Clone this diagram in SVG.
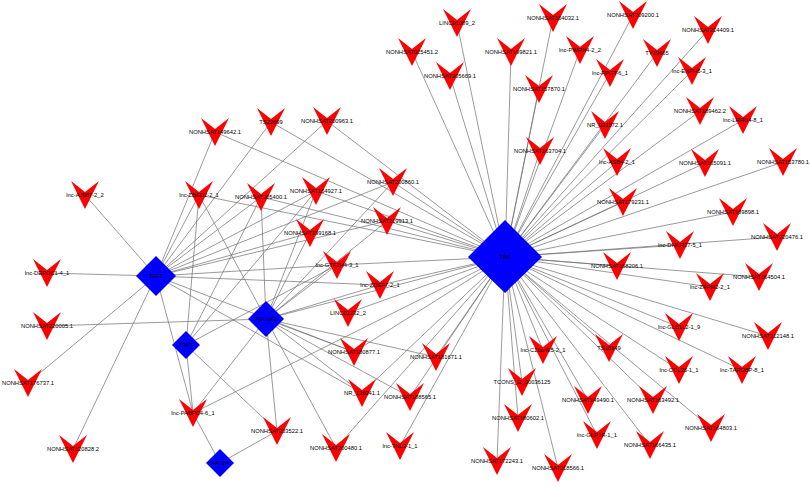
<svg xmlns="http://www.w3.org/2000/svg" xmlns:xlink="http://www.w3.org/1999/xlink" width="810" height="487" viewBox="0 0 810 487">
<style>
.e{stroke:#6e6e6e;stroke-width:0.7;fill:none}
.v{fill:#ff0000}
.h{fill:#0000ff}
text{font-family:"Liberation Sans",Arial,sans-serif;font-size:5.8px;fill:#000;text-anchor:middle}
</style>
<defs>
<path id="v" class="v" d="M-14,-14 L0,-3 L14,-14 L0,14 Z"/>
</defs>
<rect width="810" height="487" fill="#fff"/>
<g id="connectors">
<!-- TAF1 -->
<path class="e" d="M156,276L85,195M156,276L47,273M156,276L28,383M156,276L73,449M156,276L193,413M156,276L215,132M156,276L271,122M156,276L327,121M156,276L199,195M156,276L261,197M156,276L316,191M156,276L393,182M156,276L387,221M156,276L310,233M156,276L337,265M156,276L380,285M156,276L354,352M156,276L362,393"/>
<!-- POU2F2 -->
<path class="e" d="M266,319L47,326M266,319L193,413M266,319L199,195M266,319L261,197M266,319L316,191M266,319L310,233M266,319L337,265M266,319L380,285M266,319L354,352M266,319L362,393M266,319L277,431M266,319L336,448M266,319L410,397M266,319L436,357M266,319L393,182M266,319L387,221M266,319L505,257"/>
<!-- TAF7 -->
<path class="e" d="M186,345L193,413M186,345L199,195M186,345L261,197M186,345L337,265M186,345L277,431M186,345L316,191"/>
<!-- KAT2A -->
<path class="e" d="M220,463L193,413M220,463L277,431"/>
<!-- TBP left -->
<path class="e" d="M505,257L215,132M505,257L271,122M505,257L327,121M505,257L199,195M505,257L261,197M505,257L316,191M505,257L393,182M505,257L387,221M505,257L337,265M505,257L380,285M505,257L348,313M505,257L354,352M505,257L362,393M505,257L336,448M505,257L400,446M505,257L410,397M505,257L436,357M505,257L193,413"/>
<!-- TBP right -->
<path class="e" d="M505,257L457,23M505,257L553,18M505,257L412,52M505,257L511,52M505,257L580,50M505,257L450,76M505,257L539,89M505,257L633,15M505,257L708,30M505,257L657,53M505,257L610,73M505,257L692,71M505,257L700,111M505,257L743,120M505,257L605,125M505,257L540,151M505,257L617,162M505,257L705,163M505,257L783,162M505,257L623,202M505,257L733,212M505,257L777,237M505,257L680,245M505,257L617,266M505,257L759,277M505,257L710,287M505,257L679,327M505,257L768,336M505,257L609,348M505,257L679,370M505,257L742,370M505,257L653,400M505,257L711,428M505,257L650,445M505,257L543,350M505,257L522,382M505,257L588,400M505,257L518,418M505,257L597,435M505,257L497,461M505,257L558,468"/>
</g>
<g id="n1"><use href="#v" x="85" y="195"/><text x="85" y="197">lnc-AJ987-2_2</text></g>
<g id="n2"><use href="#v" x="47" y="273"/><text x="47" y="275">lnc-DEPDC1-4_1</text></g>
<g id="n3"><use href="#v" x="47" y="326"/><text x="47" y="328">NONHSAT220005.1</text></g>
<g id="n4"><use href="#v" x="28" y="383"/><text x="28" y="385">NONHSAT176737.1</text></g>
<g id="n5"><use href="#v" x="73" y="449"/><text x="73" y="451">NONHSAT120828.2</text></g>
<g id="n6"><use href="#v" x="193" y="413"/><text x="193" y="415">lnc-PABPC4-6_1</text></g>
<g id="n7"><use href="#v" x="215" y="132"/><text x="215" y="134">NONHSAT149642.1</text></g>
<g id="n8"><use href="#v" x="271" y="122"/><text x="271" y="124">TS22699</text></g>
<g id="n9"><use href="#v" x="327" y="121"/><text x="327" y="123">NONHSAT200963.1</text></g>
<g id="n10"><use href="#v" x="199" y="195"/><text x="199" y="197">lnc-ZBED2-2_1</text></g>
<g id="n11"><use href="#v" x="261" y="197"/><text x="261" y="199">NONHSAT205400.1</text></g>
<g id="n12"><use href="#v" x="316" y="191"/><text x="316" y="193">NONHSAT154927.1</text></g>
<g id="n13"><use href="#v" x="393" y="182"/><text x="393" y="184">NONHSAT200860.1</text></g>
<g id="n14"><use href="#v" x="387" y="221"/><text x="387" y="223">NONHSAT219913.1</text></g>
<g id="n15"><use href="#v" x="310" y="233"/><text x="310" y="235">NONHSAT199168.1</text></g>
<g id="n16"><use href="#v" x="337" y="265"/><text x="337" y="267">lnc-GTF2H4-3_1</text></g>
<g id="n17"><use href="#v" x="380" y="285"/><text x="380" y="287">lnc-ZDEF7-2_1</text></g>
<g id="n18"><use href="#v" x="348" y="313"/><text x="348" y="315">LINC01232_2</text></g>
<g id="n19"><use href="#v" x="354" y="352"/><text x="354" y="354">NONHSAT180877.1</text></g>
<g id="n20"><use href="#v" x="362" y="393"/><text x="362" y="395">NR_136241.1</text></g>
<g id="n21"><use href="#v" x="277" y="431"/><text x="277" y="433">NONHSAT203522.1</text></g>
<g id="n22"><use href="#v" x="336" y="448"/><text x="336" y="450">NONHSAT200480.1</text></g>
<g id="n23"><use href="#v" x="400" y="446"/><text x="400" y="448">lnc-TNL3-1_1</text></g>
<g id="n24"><use href="#v" x="410" y="397"/><text x="410" y="399">NONHSAT188565.1</text></g>
<g id="n25"><use href="#v" x="436" y="357"/><text x="436" y="359">NONHSAT181671.1</text></g>
<g id="n26"><use href="#v" x="457" y="23"/><text x="457" y="25">LINC01089_2</text></g>
<g id="n27"><use href="#v" x="553" y="18"/><text x="553" y="20">NONHSAT164032.1</text></g>
<g id="n28"><use href="#v" x="412" y="52"/><text x="412" y="54">NONHSAT025451.2</text></g>
<g id="n29"><use href="#v" x="511" y="52"/><text x="511" y="54">NONHSAT199821.1</text></g>
<g id="n30"><use href="#v" x="580" y="50"/><text x="580" y="52">lnc-PWRN4-2_2</text></g>
<g id="n31"><use href="#v" x="450" y="76"/><text x="450" y="78">NONHSAT205669.1</text></g>
<g id="n32"><use href="#v" x="539" y="89"/><text x="539" y="91">NONHSAT157870.1</text></g>
<g id="n33"><use href="#v" x="633" y="15"/><text x="633" y="17">NONHSAT209200.1</text></g>
<g id="n34"><use href="#v" x="708" y="30"/><text x="708" y="32">NONHSAT214409.1</text></g>
<g id="n35"><use href="#v" x="657" y="53"/><text x="657" y="55">TY19665</text></g>
<g id="n36"><use href="#v" x="610" y="73"/><text x="610" y="75">lnc-FPGT-6_1</text></g>
<g id="n37"><use href="#v" x="692" y="71"/><text x="692" y="73">lnc-EXPH5-3_1</text></g>
<g id="n38"><use href="#v" x="700" y="111"/><text x="700" y="113">NONHSAT189462.2</text></g>
<g id="n39"><use href="#v" x="743" y="120"/><text x="743" y="122">lnc-LRRD4-8_1</text></g>
<g id="n40"><use href="#v" x="605" y="125"/><text x="605" y="127">NR_031572.1</text></g>
<g id="n41"><use href="#v" x="540" y="151"/><text x="540" y="153">NONHSAT163704.1</text></g>
<g id="n42"><use href="#v" x="617" y="162"/><text x="617" y="164">lnc-ASB4-2_1</text></g>
<g id="n43"><use href="#v" x="705" y="163"/><text x="705" y="165">NONHSAT165091.1</text></g>
<g id="n44"><use href="#v" x="783" y="162"/><text x="783" y="164">NONHSAT153780.1</text></g>
<g id="n45"><use href="#v" x="623" y="202"/><text x="623" y="204">NONHSAT179231.1</text></g>
<g id="n46"><use href="#v" x="733" y="212"/><text x="733" y="214">NONHSAT189898.1</text></g>
<g id="n47"><use href="#v" x="777" y="237"/><text x="777" y="239">NONHSAT220476.1</text></g>
<g id="n48"><use href="#v" x="680" y="245"/><text x="680" y="247">lnc-DHCR27-5_1</text></g>
<g id="n49"><use href="#v" x="617" y="266"/><text x="617" y="268">NONHSAT168206.1</text></g>
<g id="n50"><use href="#v" x="759" y="277"/><text x="759" y="279">NONHSAT164504.1</text></g>
<g id="n51"><use href="#v" x="710" y="287"/><text x="710" y="289">lnc-ZFPM2-2_1</text></g>
<g id="n52"><use href="#v" x="679" y="327"/><text x="679" y="329">lnc-GLB1L2-1_9</text></g>
<g id="n53"><use href="#v" x="768" y="336"/><text x="768" y="338">NONHSAT212148.1</text></g>
<g id="n54"><use href="#v" x="609" y="348"/><text x="609" y="350">TS18649</text></g>
<g id="n55"><use href="#v" x="679" y="370"/><text x="679" y="372">lnc-CCL26-1_1</text></g>
<g id="n56"><use href="#v" x="742" y="370"/><text x="742" y="372">lnc-TARDBP-8_1</text></g>
<g id="n57"><use href="#v" x="653" y="400"/><text x="653" y="402">NONHSAT163492.1</text></g>
<g id="n58"><use href="#v" x="711" y="428"/><text x="711" y="430">NONHSAT164803.1</text></g>
<g id="n59"><use href="#v" x="650" y="445"/><text x="650" y="447">NONHSAT166435.1</text></g>
<g id="n60"><use href="#v" x="543" y="350"/><text x="543" y="352">lnc-C16orf25-2_1</text></g>
<g id="n61"><use href="#v" x="522" y="382"/><text x="522" y="384">TCONS_l2_00036125</text></g>
<g id="n62"><use href="#v" x="588" y="400"/><text x="588" y="402">NONHSAT149490.1</text></g>
<g id="n63"><use href="#v" x="518" y="418"/><text x="518" y="420">NONHSAT180602.1</text></g>
<g id="n64"><use href="#v" x="597" y="435"/><text x="597" y="437">lnc-GLP1R-1_1</text></g>
<g id="n65"><use href="#v" x="497" y="461"/><text x="497" y="463">NONHSAT172243.1</text></g>
<g id="n66"><use href="#v" x="558" y="468"/><text x="558" y="470">NONHSAT218566.1</text></g>
<g id="TBP"><path class="h" d="M505,220L542,257L505,293L468,257Z"/><text x="505" y="259">TBP</text></g>
<g id="TAF1"><path class="h" d="M156,256L176,276L156,296L136,276Z"/><text x="156" y="278">TAF1</text></g>
<g id="POU2F2"><path class="h" d="M266,301L284,319L266,337L248,319Z"/><text x="266" y="321">POU2F2</text></g>
<g id="TAF7"><path class="h" d="M186,331L200,345L186,359L172,345Z"/><text x="186" y="347">TAF7</text></g>
<g id="KAT2A"><path class="h" d="M220,449L234,463L220,477L206,463Z"/><text x="220" y="465">KAT2A</text></g>
</svg>
